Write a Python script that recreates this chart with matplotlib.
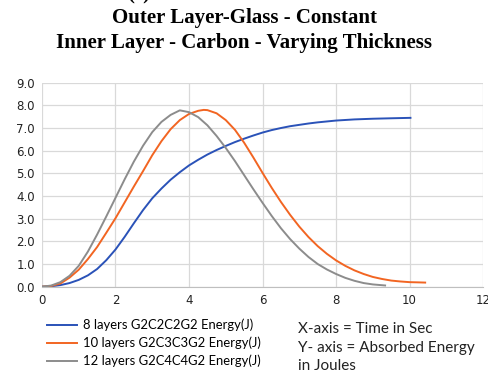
import matplotlib.pyplot as plt
from matplotlib.lines import Line2D

# time (s) and absorbed energy (J) for each laminate
t_8 = [0, 0.25, 0.5, 0.75, 1.0, 1.25, 1.5, 1.75, 2.0, 2.25, 2.5, 2.75, 3.0, 3.25,
       3.5, 3.75, 4.0, 4.25, 4.5, 4.75, 5.0, 5.25, 5.5, 5.75, 6.0, 6.25, 6.5,
       6.75, 7.0, 7.25, 7.5, 7.75, 8.0, 8.5, 9.0, 9.5, 10.05]
e_8 = [0, 0.02, 0.07, 0.16, 0.3, 0.5, 0.78, 1.17, 1.64, 2.2, 2.8, 3.38, 3.9, 4.33,
       4.72, 5.05, 5.35, 5.6, 5.83, 6.03, 6.21, 6.38, 6.53, 6.67, 6.8, 6.91, 7.0,
       7.08, 7.14, 7.2, 7.25, 7.29, 7.33, 7.38, 7.41, 7.43, 7.45]

t_10 = [0, 0.25, 0.5, 0.75, 1.0, 1.25, 1.5, 1.75, 2.0, 2.25, 2.5, 2.75, 3.0, 3.25,
        3.5, 3.75, 4.0, 4.25, 4.4, 4.5, 4.75, 5.0, 5.25, 5.5, 5.75, 6.0, 6.25,
        6.5, 6.75, 7.0, 7.25, 7.5, 7.75, 8.0, 8.25, 8.5, 8.75, 9.0, 9.25, 9.5,
        9.75, 10.0, 10.25, 10.45]
e_10 = [0, 0.03, 0.14, 0.4, 0.75, 1.22, 1.75, 2.38, 3.02, 3.72, 4.42, 5.1, 5.8, 6.42,
        6.95, 7.35, 7.62, 7.76, 7.8, 7.79, 7.65, 7.35, 6.92, 6.35, 5.7, 5.02, 4.36,
        3.74, 3.17, 2.65, 2.19, 1.79, 1.45, 1.16, 0.92, 0.72, 0.56, 0.43, 0.34, 0.27,
        0.23, 0.2, 0.19, 0.18]

t_12 = [0, 0.25, 0.5, 0.75, 1.0, 1.25, 1.5, 1.75, 2.0, 2.25, 2.5, 2.75, 3.0, 3.25,
        3.5, 3.75, 4.0, 4.25, 4.5, 4.75, 5.0, 5.25, 5.5, 5.75, 6.0, 6.25, 6.5,
        6.75, 7.0, 7.25, 7.5, 7.75, 8.0, 8.25, 8.5, 8.75, 9.0, 9.36]
e_12 = [0, 0.05, 0.2, 0.48, 0.92, 1.55, 2.3, 3.1, 3.92, 4.74, 5.52, 6.22, 6.82, 7.27,
        7.58, 7.78, 7.7, 7.48, 7.12, 6.65, 6.12, 5.54, 4.92, 4.3, 3.7, 3.12, 2.58,
        2.1, 1.68, 1.31, 1.0, 0.76, 0.56, 0.39, 0.26, 0.16, 0.1, 0.05]

labels = ['8 layers G2C2C2G2 Energy(J)',
          '10 layers G2C3C3G2 Energy(J)',
          '12 layers G2C4C4G2 Energy(J)']
colors = ['#2a52b8', '#f26522', '#8c8c8c']

fig = plt.figure(figsize=(4.88, 3.73), dpi=100)
ax = fig.add_axes([0.086, 0.2314, 0.904, 0.5469])

for t, e, c in zip([t_8, t_10, t_12], [e_8, e_10, e_12], colors):
    ax.plot(t, e, color=c, lw=1.4, solid_capstyle='butt', solid_joinstyle='round')

ax.set_xlim(0, 12)
ax.set_ylim(0, 9)
ax.set_xticks(range(0, 13, 2))
ax.set_yticks(range(0, 10))
ax.set_yticklabels([f'{v:.1f}' for v in range(0, 10)])
ax.grid(True, color='#d9d9d9', lw=0.9)
ax.set_axisbelow(True)
for s in ['top', 'right', 'left']:
    ax.spines[s].set_visible(False)
ax.spines['bottom'].set_color('#bfbfbf')
ax.tick_params(length=0, labelsize=8.5, colors='#222222', pad=5)

fig.text(0.5, 0.952, 'Outer Layer-Glass - Constant', ha='center', va='center',
         family='Liberation Serif', weight='bold', fontsize=15)
fig.text(0.5, 0.885, 'Inner Layer - Carbon - Varying Thickness', ha='center',
         va='center', family='Liberation Serif', weight='bold', fontsize=15)
fig.text(0.285, 1.014, '(c)', ha='center', va='center',
         family='Liberation Serif', weight='bold', fontsize=15)

handles = [Line2D([], [], color=c, lw=1.4) for c in colors]
fig.legend(handles, labels, loc='upper left', bbox_to_anchor=(0.096, 0.146),
           frameon=False, prop={'family': 'Lato', 'size': 9.4},
           handlelength=2.3, handletextpad=0.5, labelspacing=0.42,
           borderaxespad=0, borderpad=0)

fig.text(0.61, 0.119, 'X-axis = Time in Sec', va='center',
         family='Lato', fontsize=11, color='#222222')
fig.text(0.61, 0.068, 'Y- axis = Absorbed Energy', va='center',
         family='Lato', fontsize=11, color='#222222')
fig.text(0.61, 0.019, 'in Joules', va='center',
         family='Lato', fontsize=11, color='#222222')

fig.savefig('out.png', dpi=100)
